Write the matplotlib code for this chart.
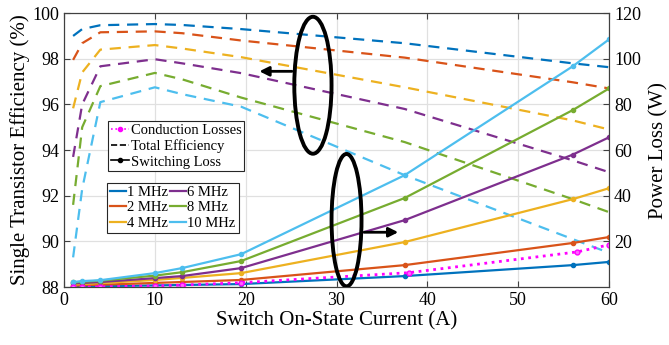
import matplotlib.pyplot as plt
from matplotlib.lines import Line2D
from matplotlib.patches import Ellipse

plt.rcParams['font.family'] = ['Liberation Serif', 'DejaVu Serif']
plt.rcParams['mathtext.fontset'] = 'stix'

# switch on-state current (A)
current = [1, 2, 4, 10, 13, 19.5, 37.5, 56, 60]
cond_current = [1, 2, 4, 10, 13, 19.5, 38, 56.5, 60]

freqs = ['1 MHz', '2 MHz', '4 MHz', '6 MHz', '8 MHz', '10 MHz']
colors = ['#0072BD', '#D95319', '#EDB120', '#7E2F8E', '#77AC30', '#4DBEEE']

# total efficiency (%) per frequency
eff_1 = [99.0, 99.3, 99.47, 99.52, 99.48, 99.3, 98.68, 97.8, 97.63]
eff_2 = [97.95, 98.68, 99.16, 99.2, 99.12, 98.8, 98.05, 96.97, 96.7]
eff_4 = [95.83, 97.4, 98.4, 98.6, 98.45, 98.07, 96.75, 95.3, 94.9]
eff_6 = [93.7, 96.0, 97.67, 97.98, 97.8, 97.37, 95.8, 93.55, 93.03]
eff_8 = [91.6, 95.0, 96.8, 97.38, 97.1, 96.3, 94.35, 91.85, 91.28]
eff_10 = [89.3, 92.3, 96.1, 96.75, 96.45, 95.9, 92.9, 90.1, 89.5]

# switching loss (W) per frequency
sw_1 = [0.2, 0.3, 0.4, 0.7, 0.9, 1.3, 4.8, 9.6, 11.0]
sw_2 = [0.6, 0.8, 1.0, 1.8, 2.2, 3.1, 9.6, 19.3, 21.9]
sw_4 = [1.1, 1.3, 1.7, 3.1, 4.0, 6.1, 19.7, 38.5, 43.3]
sw_6 = [1.6, 1.8, 2.2, 3.9, 4.8, 8.3, 29.3, 58.0, 65.6]
sw_8 = [2.0, 2.3, 2.8, 5.0, 6.5, 11.4, 39.0, 77.5, 87.0]
sw_10 = [2.2, 2.6, 3.0, 6.1, 8.3, 14.4, 49.0, 96.7, 108.5]

# conduction losses (W)
cond = [0.005, 0.02, 0.08, 0.5, 0.85, 1.9, 6.3, 15.4, 18.5]

effs = [eff_1, eff_2, eff_4, eff_6, eff_8, eff_10]
sws = [sw_1, sw_2, sw_4, sw_6, sw_8, sw_10]

fig = plt.figure(figsize=(6.69, 3.45), dpi=100)
ax = fig.add_axes([0.0957, 0.168, 0.8147, 0.794])
ax2 = ax.twinx()

for e, c in zip(effs, colors):
    ax.plot(current, e, '--', color=c, linewidth=1.6, dashes=(5, 3.5))

for s, c in zip(sws, colors):
    ax2.plot(current, s, '-', color=c, linewidth=1.6, marker='o', markersize=3)
ax2.plot(cond_current, cond, ':', color='#FF00FF', linewidth=2, marker='o', markersize=3.5,
         markerfacecolor='#FF66FF')

ax.set_xlim(0, 60)
ax.set_ylim(88, 100)
ax2.set_ylim(0, 120)
ax.set_xticks(range(0, 61, 10))
ax.set_yticks(range(88, 101, 2))
ax2.set_yticks(range(20, 121, 20))
ax.grid(True, color='#e0e0e0', linewidth=0.9)
ax.set_axisbelow(True)

for a in (ax, ax2):
    a.tick_params(direction='in', labelsize=13, color='#404040', length=4)
    for sp in a.spines.values():
        sp.set_color('#404040')
ax.tick_params(top=True)

ax.set_xlabel('Switch On-State Current (A)', fontsize=15, labelpad=2)
ax.set_ylabel('Single Transistor Efficiency (%)', fontsize=15, labelpad=2)
ax2.set_ylabel('Power Loss (W)', fontsize=15, labelpad=6)

# legends
h1 = [Line2D([], [], color='#FF00FF', linestyle=':', marker='o', markersize=3, linewidth=1.2),
      Line2D([], [], color='k', linestyle='--', linewidth=1.2),
      Line2D([], [], color='k', linestyle='-', marker='o', markersize=3, linewidth=1.2)]
leg1 = ax2.legend(h1, ['Conduction Losses', 'Total Efficiency', 'Switching Loss'],
                  loc='upper left', bbox_to_anchor=(0.081, 0.606), borderaxespad=0,
                  fontsize=10.5, handlelength=1.2, handletextpad=0.15, labelspacing=0.15,
                  borderpad=0.2, fancybox=False, framealpha=1, edgecolor='#262626')
leg1.get_frame().set_linewidth(0.8)
ax2.add_artist(leg1)

h2 = [Line2D([], [], color=c, linewidth=1.6) for c in colors]
leg2 = ax2.legend(h2, freqs, ncol=2, loc='upper left', bbox_to_anchor=(0.079, 0.38),
                  borderaxespad=0, fontsize=10.5, handlelength=1.1, handletextpad=0.1,
                  labelspacing=0.15, columnspacing=0.1, borderpad=0.2, fancybox=False,
                  framealpha=1, edgecolor='#262626')
leg2.get_frame().set_linewidth(0.8)

# annotation ellipses and arrows
ax2.add_patch(Ellipse((27.4, 96.84), 4.1, 6.0, transform=ax.transData, fill=False,
                      edgecolor='k', linewidth=2.8, zorder=5))
ax2.annotate('', xy=(21.2, 97.45), xytext=(25.4, 97.45), xycoords=ax.transData,
             textcoords=ax.transData,
             arrowprops=dict(arrowstyle='-|>', color='k', linewidth=2, mutation_scale=14))
ax2.add_patch(Ellipse((31.1, 90.93), 3.3, 5.8, transform=ax.transData, fill=False,
                      edgecolor='k', linewidth=2.8, zorder=5))
ax2.annotate('', xy=(37.1, 90.4), xytext=(32.75, 90.4), xycoords=ax.transData,
             textcoords=ax.transData,
             arrowprops=dict(arrowstyle='-|>', color='k', linewidth=2, mutation_scale=14))

fig.savefig('out.png', dpi=100)
